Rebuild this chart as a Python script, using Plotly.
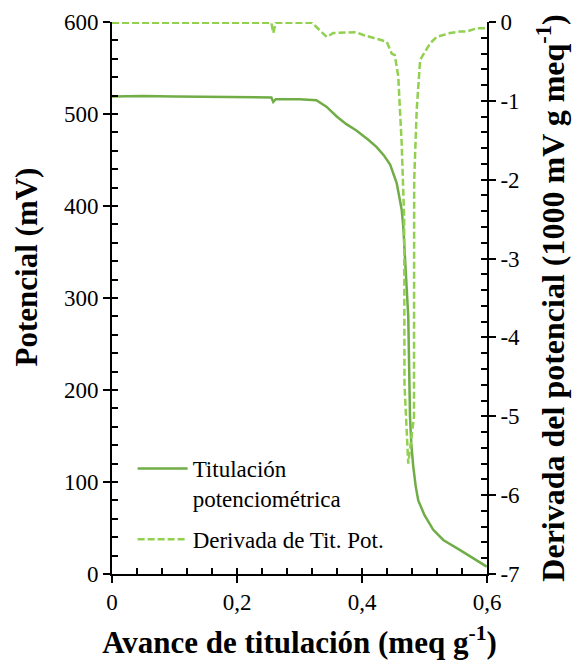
import plotly.graph_objects as go

# Potential titration (left axis, mV)
tit_x = [0, 0.05, 0.10, 0.15, 0.20, 0.255, 0.258, 0.262, 0.30, 0.327, 0.343, 0.36, 0.375,
         0.391, 0.41, 0.4235, 0.435, 0.445, 0.4555, 0.4635, 0.466, 0.470, 0.474, 0.4768,
         0.479, 0.482, 0.486, 0.490, 0.50, 0.514, 0.53, 0.557, 0.58, 0.5995]
tit_y = [519, 519.5, 519, 518.5, 518, 518, 513, 516, 516, 515, 508, 497, 489,
         482, 472, 464, 455, 445, 425, 396, 378, 330, 280, 171,
         140, 117, 95, 80, 64, 48, 37, 26, 16, 8]

# Derivative (right axis, 1000 mV g meq-1)
der_x = [0, 0.1, 0.2, 0.255, 0.258, 0.262, 0.32, 0.3435, 0.354, 0.3755, 0.391, 0.402,
         0.4235, 0.4395, 0.4475, 0.4525, 0.458, 0.4635, 0.4675, 0.468, 0.474, 0.4832,
         0.4835, 0.4875, 0.493, 0.509, 0.5195, 0.541, 0.557, 0.5675, 0.5835, 0.6]
der_y = [-0.01, -0.01, -0.01, -0.01, -0.14, -0.01, -0.01, -0.19, -0.14, -0.135, -0.13, -0.165,
         -0.21, -0.25, -0.40, -0.42, -0.69, -1.54, -2.5, -4.6, -5.6, -5.0,
         -2.0, -1.12, -0.48, -0.27, -0.19, -0.14, -0.12, -0.12, -0.08, -0.08]

x_ticks = [0, 0.2, 0.4, 0.6]
x_ticktext = ["0", "0,2", "0,4", "0,6"]
y_ticks = [0, 100, 200, 300, 400, 500, 600]
y2_ticks = [0, -1, -2, -3, -4, -5, -6, -7]
y2_ticktext = ["0", "-1", "-2", "-3", "-4", "-5", "-6", "-7"]

FONT = "Liberation Serif, Times New Roman, serif"
TICK = 23

fig = go.Figure()
fig.add_trace(go.Scatter(x=tit_x, y=tit_y, mode="lines", legendgroup="a",
                         name="Titulación<br>potenciométrica",
                         line=dict(color="#70AD47", width=2.5)))
fig.add_trace(go.Scatter(x=der_x, y=der_y, mode="lines", yaxis="y2", legendgroup="b",
                         name="Derivada de Tit. Pot.",
                         line=dict(color="#92D050", width=2.5, dash="7px,3px")))
# empty traces so the overlay axes carrying the inner (minor) ticks get drawn
fig.add_trace(go.Scatter(x=[], y=[], xaxis="x2", yaxis="y3", showlegend=False, hoverinfo="skip"))
fig.add_trace(go.Scatter(x=[], y=[], xaxis="x", yaxis="y4", showlegend=False, hoverinfo="skip"))

common = dict(showgrid=False, zeroline=False, showline=True, linecolor="black",
              linewidth=1.6, tickcolor="black", ticklen=7, tickwidth=2, automargin=False,
              ticks="outside", tickfont=dict(family=FONT, size=TICK, color="black"))

inner = dict(ticks="inside", ticklen=6, tickwidth=2, tickcolor="black", automargin=False,
             showticklabels=False, showgrid=False, zeroline=False, showline=False)

fig.update_layout(
    width=573, height=661,
    margin=dict(l=112, r=86, t=22, b=87),
    paper_bgcolor="white", plot_bgcolor="white",
    font=dict(family=FONT, color="black"),
    showlegend=True,
    legend=dict(x=0.055, y=0.23, xanchor="left", yanchor="top",
                bgcolor="rgba(0,0,0,0)", valign="top", itemwidth=50,
                traceorder="grouped", tracegroupgap=8,
                font=dict(family=FONT, size=TICK, color="black")),
    xaxis=dict(range=[0, 0.6], tickmode="array", tickvals=x_ticks, ticktext=x_ticktext,
               title=dict(text="<b>Avance de titulación (meq g<sup>-1</sup>)</b>",
                          font=dict(family=FONT, size=31, color="black"), standoff=17),
               **common),
    yaxis=dict(range=[0, 600], tickmode="array", tickvals=y_ticks,
               title=dict(text="<b>" + "\u00a0" * 8 + "Potencial (mV)</b>",
                          font=dict(family=FONT, size=31, color="black"), standoff=17),
               **common),
    yaxis2=dict(range=[-7, 0], overlaying="y", side="right", anchor="x",
                tickmode="array", tickvals=y2_ticks, ticktext=y2_ticktext,
                title=dict(text="<b>Derivada del potencial (1000 mV g meq<sup>-1</sup>)</b>",
                           font=dict(family=FONT, size=32, color="black"), standoff=23),
                **common),
    xaxis2=dict(range=[0, 0.6], overlaying="x", anchor="y", side="bottom",
                tickmode="linear", tick0=0, dtick=0.04, **inner),
    yaxis3=dict(range=[0, 600], overlaying="y", anchor="x", side="left",
                tickmode="linear", tick0=0, dtick=20, **inner),
    yaxis4=dict(range=[-7, 0], overlaying="y", anchor="x", side="right",
                tickmode="linear", tick0=0, dtick=0.2, **inner),
)

fig.write_html("out.html", config={"displayModeBar": False},
               post_script="document.body.style.margin='0';")
